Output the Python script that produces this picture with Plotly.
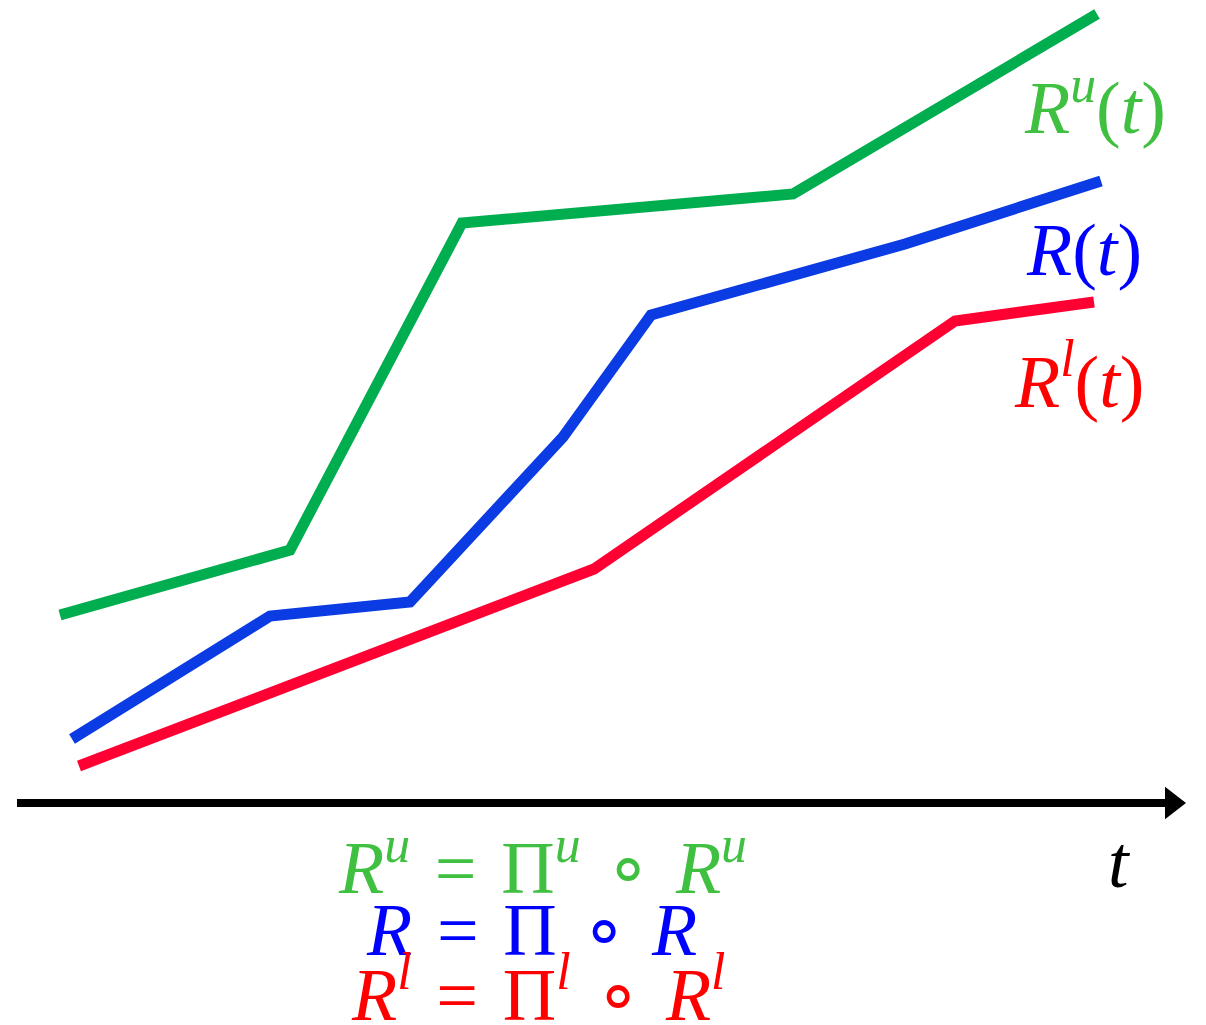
import plotly.graph_objects as go

# Curve samples (horizontal position, vertical position in canvas units, top = 0)
upper_x = [60, 290, 462, 793, 1097]
upper_y = [615, 550, 223, 194, 14]

mid_x = [72, 270, 410, 563, 651, 905, 1101]
mid_y = [739, 616, 602, 437, 315, 244, 181]

lower_x = [79, 594, 955, 1094]
lower_y = [766, 569, 321, 302]

# Time axis extent
axis_x = [17, 1170]
axis_y = [803, 803]

GREEN_LINE = "#00AD4F"
BLUE_LINE = "#0A3BE3"
RED_LINE = "#FF0033"
GREEN_TXT = "#40C040"
BLUE_TXT = "#0000FF"
RED_TXT = "#FF0000"
FONT = "Liberation Serif"

fig = go.Figure()

for xs, ys, col in [(upper_x, upper_y, GREEN_LINE),
                    (mid_x, mid_y, BLUE_LINE),
                    (lower_x, lower_y, RED_LINE)]:
    fig.add_trace(go.Scatter(x=xs, y=ys, mode="lines",
                             line=dict(color=col, width=11),
                             hoverinfo="skip", showlegend=False))

# time axis with arrow head
fig.add_trace(go.Scatter(x=axis_x, y=axis_y, mode="lines",
                         line=dict(color="black", width=8),
                         hoverinfo="skip", showlegend=False))
fig.add_trace(go.Scatter(x=[axis_x[1] + 2], y=[axis_y[1]], mode="markers",
                         marker=dict(symbol="triangle-right", size=28, color="black"),
                         hoverinfo="skip", showlegend=False))

SP = "\u2004"  # three-per-em space around binary operators

labels = [
    (1022, 102, "left", "<i>R</i><sup><i>u</i></sup>(<i>t</i>)", GREEN_TXT),
    (1024, 250, "left", "<i>R</i>(<i>t</i>)", BLUE_TXT),
    (1012, 376, "left", "<i>R</i><sup><i>l</i></sup>(<i>t</i>)", RED_TXT),
    (1106, 862, "left", "<i>t</i>", "black"),
    (542, 862, "center", "<i>R</i><sup><i>u</i></sup>" + SP + "=" + SP + "Π<sup><i>u</i></sup>" + SP + "∘" + SP + "<i>R</i><sup><i>u</i></sup>", GREEN_TXT),
    (531, 930, "center", "<i>R</i>" + SP + "=" + SP + "Π" + SP + "∘" + SP + "<i>R</i>", BLUE_TXT),
    (538, 989, "center", "<i>R</i><sup><i>l</i></sup>" + SP + "=" + SP + "Π<sup><i>l</i></sup>" + SP + "∘" + SP + "<i>R</i><sup><i>l</i></sup>", RED_TXT),
]
for x, y, anchor, txt, col in labels:
    fig.add_annotation(x=x, y=y, text=txt, showarrow=False,
                       xanchor=anchor, yanchor="middle",
                       font=dict(family=FONT, size=74, color=col))

fig.update_layout(
    width=1206, height=1025,
    margin=dict(l=0, r=0, t=0, b=0),
    paper_bgcolor="white", plot_bgcolor="white",
    xaxis=dict(range=[0, 1206], visible=False, fixedrange=True),
    yaxis=dict(range=[1025, 0], visible=False, fixedrange=True),
)

fig.write_html("out.html")
